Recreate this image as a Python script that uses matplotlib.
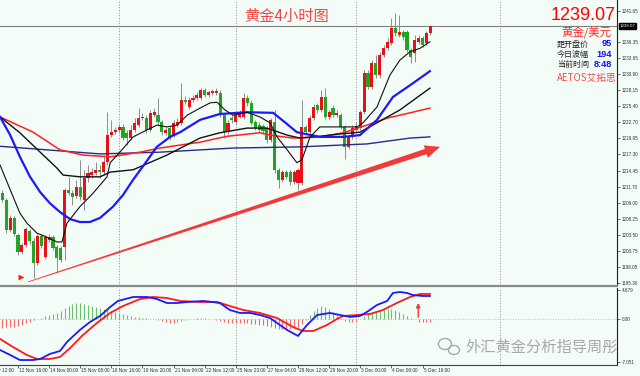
import matplotlib
matplotlib.use("Agg")
import matplotlib.pyplot as plt
import numpy as np
from matplotlib.patches import Polygon, Ellipse
from matplotlib.transforms import IdentityTransform, blended_transform_factory, offset_copy

BG = '#f3fcf6'
UP = '#e8101a'
DN = '#24a424'
CJK = ['Noto Sans CJK SC', 'DejaVu Sans']
SMALL = ['Liberation Sans', 'DejaVu Sans']

# ---------------- data ----------------
opens = [1210.6, 1209.5, 1204.3, 1206.4, 1203.5, 1200.6, 1201.8, 1204.2, 1202.5, 1198.7,
         1203.3, 1199.7, 1202.6, 1203.1, 1201.4, 1201.3, 1201.4, 1211.2, 1210.6, 1210.1,
         1211.7, 1209.5, 1213.2, 1213.7, 1214.1, 1214.6, 1214.2, 1215.9, 1220.5, 1221.0,
         1221.4, 1221.9, 1220.9, 1220.0, 1221.4, 1222.2, 1223.4, 1223.4, 1221.4, 1223.9,
         1223.9, 1222.7, 1220.9, 1221.7, 1220.5, 1222.2, 1222.6, 1226.5, 1225.3, 1226.5,
         1226.8, 1226.8, 1228.2, 1227.3, 1227.7, 1227.7, 1227.7, 1223.9, 1221.0, 1223.4,
         1222.7, 1223.6, 1223.6, 1226.8, 1226.0, 1222.7, 1222.2, 1222.1, 1221.7, 1219.7,
         1222.7, 1214.6, 1212.9, 1214.2, 1214.2, 1212.5, 1212.3, 1212.3, 1221.9, 1221.0,
         1223.4, 1225.6, 1224.8, 1227.0, 1223.6, 1225.1, 1223.9, 1223.9, 1221.9, 1218.5,
         1220.2, 1221.4, 1221.7, 1224.4, 1231.1, 1228.7, 1232.8, 1230.7, 1234.2, 1235.3,
         1236.2, 1238.8, 1237.6, 1238.1, 1238.1, 1235.0, 1234.5, 1236.4, 1237.1, 1236.2, 1237.9]
highs = [1211.2, 1209.8, 1206.9, 1206.7, 1203.8, 1202.1, 1204.8, 1204.5, 1203.0, 1203.7,
         1203.7, 1203.5, 1203.7, 1203.5, 1201.8, 1201.6, 1211.5, 1213.4, 1211.2, 1212.9,
         1216.3, 1214.6, 1215.4, 1214.9, 1215.9, 1215.4, 1217.1, 1224.4, 1223.1, 1221.9,
         1222.4, 1222.4, 1221.4, 1222.2, 1223.4, 1225.1, 1224.3, 1223.9, 1224.8, 1225.1,
         1226.8, 1223.1, 1221.9, 1222.1, 1223.1, 1223.4, 1229.4, 1227.2, 1227.0, 1227.3,
         1227.9, 1228.5, 1228.5, 1228.2, 1228.4, 1228.5, 1228.2, 1224.3, 1223.1, 1223.9,
         1224.4, 1224.8, 1227.7, 1227.3, 1226.5, 1223.1, 1222.7, 1222.4, 1222.1, 1223.4,
         1224.8, 1214.9, 1214.6, 1214.6, 1214.6, 1214.6, 1214.9, 1226.5, 1222.2, 1223.9,
         1225.8, 1226.0, 1228.2, 1228.5, 1224.8, 1225.6, 1224.8, 1224.3, 1222.2, 1220.5,
         1222.2, 1222.7, 1224.8, 1231.6, 1231.6, 1233.3, 1234.2, 1234.7, 1235.9, 1237.1,
         1240.5, 1241.3, 1241.0, 1238.4, 1238.4, 1235.3, 1237.6, 1237.6, 1237.4, 1238.2, 1239.3]
lows = [1209.1, 1203.8, 1204.0, 1203.3, 1200.1, 1200.3, 1201.4, 1201.9, 1196.2, 1198.4,
        1201.3, 1199.4, 1202.3, 1200.9, 1197.2, 1198.9, 1199.2, 1210.3, 1208.6, 1209.8,
        1209.5, 1207.7, 1212.5, 1213.2, 1213.7, 1213.2, 1213.7, 1215.4, 1220.2, 1220.7,
        1221.0, 1219.7, 1218.8, 1219.7, 1221.0, 1221.9, 1223.1, 1220.9, 1221.0, 1223.6,
        1222.2, 1220.5, 1220.5, 1219.7, 1220.2, 1221.9, 1222.2, 1225.8, 1225.0, 1226.1,
        1226.5, 1226.5, 1227.0, 1227.0, 1227.3, 1227.3, 1223.6, 1220.0, 1220.7, 1222.6,
        1222.4, 1223.4, 1223.3, 1225.5, 1222.2, 1221.4, 1221.0, 1220.7, 1219.2, 1219.3,
        1214.1, 1211.5, 1212.5, 1213.0, 1212.0, 1212.2, 1211.2, 1212.0, 1220.7, 1220.7,
        1223.1, 1224.3, 1224.4, 1223.3, 1223.3, 1223.6, 1223.6, 1221.5, 1216.4, 1218.1,
        1219.8, 1221.0, 1221.4, 1224.1, 1228.4, 1228.4, 1230.2, 1230.2, 1233.8, 1235.0,
        1235.9, 1237.4, 1237.2, 1236.7, 1234.7, 1232.8, 1233.0, 1236.0, 1235.5, 1235.9, 1237.6]
closes = [1209.5, 1204.3, 1206.4, 1203.7, 1200.6, 1201.8, 1204.5, 1202.5, 1198.7, 1203.3,
          1201.6, 1203.1, 1203.1, 1201.3, 1199.6, 1199.2, 1211.2, 1210.6, 1210.0, 1211.7,
          1210.0, 1213.2, 1214.1, 1214.2, 1214.6, 1214.2, 1215.9, 1220.5, 1221.0, 1221.4,
          1221.9, 1220.0, 1220.0, 1221.4, 1222.6, 1223.4, 1223.6, 1221.4, 1224.3, 1224.4,
          1222.7, 1221.0, 1221.4, 1220.2, 1222.6, 1222.7, 1226.5, 1226.1, 1226.5, 1226.8,
          1227.3, 1228.2, 1227.3, 1227.9, 1228.0, 1228.0, 1223.9, 1221.0, 1222.6, 1223.1,
          1223.9, 1224.3, 1226.8, 1226.0, 1222.6, 1221.7, 1221.4, 1221.2, 1219.7, 1223.1,
          1214.6, 1212.9, 1214.2, 1213.4, 1212.5, 1214.2, 1214.6, 1221.9, 1221.0, 1223.4,
          1225.3, 1224.8, 1227.0, 1223.6, 1224.4, 1223.9, 1224.3, 1221.9, 1218.5, 1220.2,
          1221.7, 1222.1, 1224.4, 1231.1, 1228.7, 1232.8, 1230.7, 1234.2, 1235.3, 1236.4,
          1238.8, 1237.9, 1238.1, 1237.2, 1235.0, 1233.8, 1236.7, 1237.1, 1235.9, 1237.9, 1239.07]

# moving averages (bar position, price)
ma_fast_x = [-0.6, 2.0, 4.5, 6.3, 8.9, 11.5, 14.0, 15.3, 16.6, 19.9, 23.3, 26.9, 27.7, 30.2,
             33.6, 37.2, 39.7, 42.3, 44.9, 47.5, 50.8, 53.4, 55.2, 57.2, 59.3, 62.9, 66.2,
             68.8, 70.6, 73.2, 75.7, 77.0, 79.1, 81.6, 86.8, 91.2, 92.7, 96.3, 99.6, 102.2,
             104.8, 107.4, 109.9]
ma_fast_y = [1215.4, 1211.2, 1207.2, 1205.5, 1203.8, 1203.1, 1202.3, 1202.3, 1205.5, 1208.3,
             1210.6, 1213.4, 1215.8, 1217.6, 1220.2, 1221.4, 1222.2, 1221.9, 1222.2, 1223.9,
             1225.1, 1226.0, 1226.1, 1224.8, 1223.9, 1224.4, 1223.6, 1222.6, 1220.2, 1218.0,
             1215.8, 1216.3, 1220.2, 1221.9, 1221.9, 1221.9, 1222.6, 1225.3, 1230.7, 1233.3,
             1234.7, 1235.3, 1236.4]
ma_blue_x = [-0.6, 2.0, 4.5, 7.1, 9.7, 12.2, 14.8, 17.4, 19.9, 22.5, 25.1, 28.4, 31.0, 33.6,
             36.7, 39.7, 43.1, 45.7, 50.8, 55.9, 62.9, 69.6, 72.6, 75.7, 81.6, 87.6, 91.9,
             96.3, 100.4, 104.8, 109.9]
ma_blue_y = [1223.6, 1220.5, 1216.8, 1213.4, 1210.8, 1208.9, 1207.4, 1206.2, 1205.7, 1205.7,
             1206.4, 1208.3, 1210.3, 1212.9, 1215.7, 1218.5, 1220.2, 1221.0, 1223.1, 1224.1,
             1224.4, 1224.3, 1222.7, 1221.0, 1220.2, 1220.2, 1220.5, 1223.1, 1227.0, 1229.0,
             1231.4]
ma_mid_x = [-0.6, 4.5, 9.7, 14.0, 15.6, 19.9, 25.1, 27.7, 33.6, 42.3, 46.4, 50.8, 55.9, 62.9,
            68.0, 73.2, 76.5, 81.6, 86.8, 91.9, 96.3, 102.2, 109.9]
ma_mid_y = [1223.6, 1220.9, 1217.6, 1214.9, 1213.7, 1213.4, 1213.4, 1214.2, 1214.6, 1217.1,
            1218.5, 1220.0, 1220.9, 1221.7, 1221.7, 1220.5, 1220.0, 1220.3, 1220.7, 1221.0,
            1222.6, 1224.8, 1228.5]
ma_red_x = [-0.6, 7.9, 14.8, 20.7, 27.7, 35.4, 40.5, 50.8, 57.7, 66.2, 68.8, 74.7, 81.6, 87.6,
            93.7, 98.9, 104.8, 109.9]
ma_red_y = [1223.6, 1221.0, 1218.0, 1217.1, 1216.8, 1217.6, 1218.3, 1219.3, 1220.3, 1220.9,
            1220.5, 1220.0, 1220.2, 1220.9, 1222.2, 1223.4, 1224.3, 1225.1]
ma_long_x = [-0.6, 25.1, 40.5, 59.3, 76.5, 93.7, 104.8, 109.9]
ma_long_y = [1218.6, 1217.3, 1217.6, 1218.3, 1218.5, 1219.0, 1220.0, 1220.2]

# MACD
macd_x = [-0.6, 2.0, 4.5, 7.9, 9.7, 12.2, 14.8, 16.6, 19.9, 22.5, 25.1, 27.7, 29.7, 33.6, 37.2,
          39.7, 42.3, 44.9, 47.5, 51.6, 54.1, 55.9, 58.5, 61.1, 63.7, 66.2, 68.8, 70.6, 73.2,
          76.0, 78.3, 80.9, 84.2, 86.8, 89.4, 91.9, 93.7, 96.3, 98.9, 100.4, 102.2, 104.0,
          105.5, 108.1, 109.9]
macd_y = [-5.04, -5.85, -6.67, -6.67, -6.50, -5.69, -5.20, -3.74, -1.79, -0.49, 0.49, 1.95, 2.93,
          3.58, 3.58, 3.25, 2.60, 2.60, 2.76, 2.93, 2.76, 2.60, 1.46, 0.98, 0.98, 0.65, 0.16,
          -0.65, -1.79, -2.76, -0.98, 0.65, 0.98, 0.65, 0.33, 0.49, 1.14, 2.28, 2.93, 4.23,
          4.39, 4.23, 3.90, 3.74, 3.74]
signal_x = [-0.6, 2.7, 6.3, 8.9, 12.2, 14.8, 17.4, 20.7, 24.3, 27.7, 31.0, 35.4, 38.7, 42.3,
            45.7, 50.8, 55.2, 58.5, 61.9, 66.2, 70.6, 74.7, 77.3, 79.9, 83.4, 86.0, 87.6, 91.2,
            94.5, 97.8, 101.4, 104.8, 107.4, 109.9]
signal_y = [-3.25, -4.55, -5.85, -6.50, -6.50, -6.18, -4.72, -2.60, -0.65, 0.98, 2.11, 3.25,
            3.58, 3.41, 2.93, 2.76, 2.76, 2.11, 1.46, 0.98, 0.16, -1.30, -1.95, -1.95, -0.98,
            0.00, 0.49, 0.65, 0.81, 1.46, 2.60, 3.58, 4.07, 4.07]
hist = [-1.46, -1.30, -1.30, -1.30, -1.14, -0.98, -0.65, -0.49, -0.16, 0.0,
        0.16, 0.49, 0.65, 0.81, 0.98, 1.30, 1.79, 2.11, 2.44, 2.60,
        2.60, 2.44, 2.28, 2.11, 1.95, 1.79, 1.63, 1.46, 1.30, 1.14,
        0.98, 0.81, 0.65, 0.49, 0.33, 0.33, 0.16, 0.16, 0.0, 0.0,
        -0.16, -0.33, -0.49, -0.65, -0.65, -0.49, -0.33, -0.16, 0.0, 0.0,
        0.16, 0.16, 0.16, 0.0, 0.0, -0.16, -0.33, -0.49, -0.65, -0.65,
        -0.65, -0.65, -0.65, -0.65, -0.81, -0.81, -0.98, -0.98, -1.14, -1.30,
        -1.46, -1.63, -1.63, -1.63, -1.63, -1.46, -1.30, -0.81, -0.16, 0.65,
        1.30, 1.79, 2.11, 1.95, 1.63, 1.14, 0.65, 0.16, -0.33, -0.49,
        -0.49, -0.33, 0.0, 0.49, 0.81, 1.14, 1.30, 1.46, 1.63, 1.63,
        1.63, 1.46, 1.14, 0.81, 0.49, 0.16, 0.0, -0.49, -0.49, -0.49, -0.49]

price_ticks = [1241.65, 1236.35, 1233.65, 1230.90, 1228.15, 1225.40, 1222.70, 1219.95,
               1217.30, 1214.45, 1211.70, 1209.00, 1206.25, 1203.50, 1200.75, 1198.05, 1195.30]
macd_ticks = [4.679, 0.0, -7.051]
macd_tick_labels = ["4.679", "0.00", "-7.051"]
time_labels = ["9 Nov 12:00", "12 Nov 16:00", "14 Nov 00:00", "15 Nov 08:00", "16 Nov 16:00",
               "19 Nov 20:00", "21 Nov 04:00", "22 Nov 12:00", "25 Nov 23:00", "27 Nov 04:00",
               "28 Nov 12:00", "29 Nov 20:00", "3 Dec 00:00", "4 Dec 08:00", "5 Dec 16:00"]
time_label_pos = [-4, 4, 12, 20, 28, 36, 44, 52, 60, 68, 76, 84, 92, 100, 108]
grid_pos = [30.0, 60.1, 90.9, 127.9]
current_price = 1239.07
info_labels = ["距开盘价", "今日波幅", "当前时间"]
info_values = ["95", "194", "8:48"]

# ---------------- figure ----------------
W, H = 640, 376
fig = plt.figure(figsize=(6.4, 3.76), dpi=100, facecolor=BG)
ax = fig.add_axes([0, 1 - 285 / H, 617 / W, 285 / H], facecolor=BG)
ax2 = fig.add_axes([0, 1 - 365 / H, 617 / W, 77 / H], facecolor=BG)
XL = (-0.62, 158.0)
for a in (ax, ax2):
    a.set_xlim(*XL)
    for s in ('top', 'left'):
        a.spines[s].set_visible(False)
    a.spines['right'].set_color('#202020')
    a.spines['right'].set_linewidth(0.8)
ax.spines['bottom'].set_visible(False)
ax2.spines['bottom'].set_color('#404040')
ax2.spines['bottom'].set_linewidth(0.8)
ax.set_ylim(1194.97, 1243.52)
ax2.set_ylim(-7.48, 5.04)

# grid
for g in grid_pos:
    for a in (ax, ax2):
        a.axvline(g, color='#7a7a7a', lw=0.6, ls=(0, (1.2, 2.0)), zorder=0.5)
ax2.axhline(0, color='#b0b0b0', lw=0.6, ls=(0, (1, 2)), zorder=0.5)

# current price line
ax.axhline(current_price, color='#808080', lw=0.8, zorder=1)

# candles
idx = np.arange(len(closes))
o = np.array(opens); c = np.array(closes); hh = np.array(highs); ll = np.array(lows)
cols = np.where(c >= o, UP, DN)
ax.vlines(idx, ll, hh, color='#8c8c8c', lw=0.7, zorder=2)
ax.bar(idx, np.maximum(np.abs(c - o), 0.15), bottom=np.minimum(o, c), width=0.8,
       color=cols, linewidth=0, zorder=3)

# MAs
ax.plot(ma_long_x, ma_long_y, color='#2a2a8a', lw=1.0, zorder=4)
ax.plot(ma_red_x, ma_red_y, color='#ff2020', lw=1.1, zorder=4)
ax.plot(ma_mid_x, ma_mid_y, color='#111111', lw=1.0, zorder=4)
ax.plot(ma_blue_x, ma_blue_y, color='#1a1aff', lw=1.6, zorder=4)
ax.plot(ma_fast_x, ma_fast_y, color='#111111', lw=0.8, zorder=5)

# tapered trend arrow (drawn in pixel space from data anchor points)
fig.canvas.draw()
p0 = ax.transData.transform((6.6, 1195.5))
p1 = ax.transData.transform((112.5, 1218.5))
d = p1 - p0
L = np.hypot(*d)
u = d / L
n = np.array([-u[1], u[0]])
hl, hw, w0, w1 = 15, 13, 0.8, 5.5
hb = p1 - u * hl
pts = [p0 + n * w0 / 2, hb + n * w1 / 2, hb + n * hw / 2, p1, hb - n * hw / 2,
       hb - n * w1 / 2, p0 - n * w0 / 2]
fig.add_artist(Polygon(pts, closed=True, transform=IdentityTransform(),
                       facecolor='#f23a3a', edgecolor='none', zorder=6))
ax.plot([4.8], [1196.3], marker='>', ms=4, color='#ff2020', mec='none', zorder=6)

# MACD
for i, v in enumerate(hist):
    if v == 0:
        continue
    ax2.vlines(i, 0, v, color=('#6cbf6c' if v > 0 else '#f26a6a'), lw=0.8, zorder=2)
ax2.plot(signal_x, signal_y, color='#ff1a1a', lw=1.3, zorder=3)
ax2.plot(macd_x, macd_y, color='#1a1aff', lw=1.3, zorder=4)
ax2.annotate('', xy=(106.9, 2.6), xytext=(106.9, 0.3),
             arrowprops=dict(arrowstyle='-|>', color='#f23a3a', lw=1.0,
                             mutation_scale=6, shrinkA=0, shrinkB=0), zorder=5)

# axes ticks
ax.yaxis.tick_right()
ax.set_yticks(price_ticks)
ax.set_yticklabels([f"{v:.2f}" for v in price_ticks], family=SMALL)
ax.tick_params(axis='y', labelsize=3.3, length=2, width=0.5, pad=1.5, colors='#303030')
ax.set_xticks([])
ax2.yaxis.tick_right()
ax2.set_yticks(macd_ticks)
ax2.set_yticklabels(macd_tick_labels, family=SMALL)
ax2.tick_params(axis='y', labelsize=3.3, length=2, width=0.5, pad=1.5, colors='#303030')
ax2.set_xticks([p for p in time_label_pos if p >= XL[0]])
ax2.set_xticklabels([])
ax2.tick_params(axis='x', length=2, width=0.5, colors='#303030')
xt = offset_copy(blended_transform_factory(ax2.transData, ax2.transAxes), fig=fig,
                 x=1, y=-2.5, units='dots')
for p, lab in zip(time_label_pos, time_labels):
    ax2.text(p, 0, lab, transform=xt, family=SMALL, fontsize=3.4, color='#303030',
             ha='left', va='top', clip_on=False)

# current price tag on axis
bt = blended_transform_factory(ax.transAxes, ax.transData)
ax.text(1.004, current_price, f"{current_price:.2f}", transform=bt, family=SMALL, fontsize=3.2,
        color='white', va='center', ha='left', clip_on=False,
        bbox=dict(boxstyle='square,pad=0.2', fc='black', ec='black'))

# panel separator
fig.add_artist(plt.Line2D([0, 617 / W], [1 - 286 / H, 1 - 286 / H], transform=fig.transFigure,
                          color='#8a8a8a', lw=1.6))

# texts
fig.text(287 / W, 1 - 16.5 / H, "黄金4小时图", family=CJK, fontsize=11, color='#f04848',
         ha='center', va='center')
fig.text(583 / W, 1 - 15 / H, f"{current_price:.2f}", family=['Liberation Sans'], fontsize=13,
         color='#ff0000', ha='center', va='center')
fig.text(586 / W, 1 - 32 / H, "黄金/美元", family=CJK, fontsize=8.2, color='#ff2a2a',
         ha='center', va='center')
for k, (lab, val) in enumerate(zip(info_labels, info_values)):
    yy = 1 - (44 + 10.3 * k) / H
    fig.text(557 / W, yy, lab, family=CJK, fontsize=5.8, color='#222222', ha='left', va='center')
    fig.text(612 / W, yy, val, family=['Liberation Sans', 'DejaVu Sans'], fontsize=6.6,
             color='#1010ff', fontweight='bold', ha='right', va='center')
fig.text(587 / W, 1 - 78 / H, "AETOS艾拓思", family=CJK, fontsize=7, color='#f05050',
         ha='center', va='center')

# watermark
fig.text(465 / W, 1 - 347 / H, "外汇黄金分析指导周彤", family=CJK, fontsize=11,
         color='#a8a8a8', ha='left', va='center')
fig.add_artist(Ellipse((445, H - 344), 13, 11, transform=IdentityTransform(), fill=False,
                       ec='#a8a8a8', lw=1.0))
fig.add_artist(Ellipse((454, H - 350), 11, 9, transform=IdentityTransform(), fill=False,
                       ec='#a8a8a8', lw=1.0))

fig.savefig("out.png", dpi=100, facecolor=BG)
